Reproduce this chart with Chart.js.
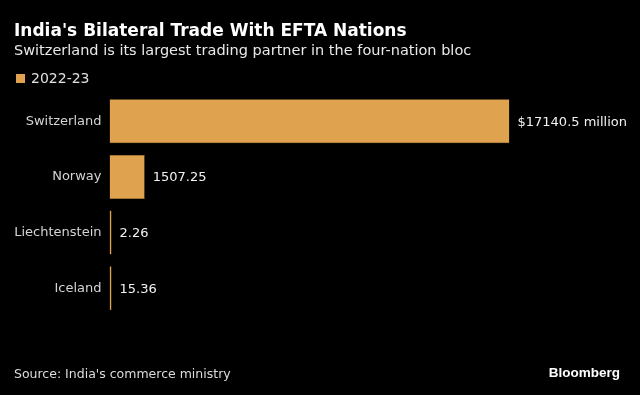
<!DOCTYPE html>
<html>
<head>
<meta charset="utf-8">
<script src="https://cdn.jsdelivr.net/npm/chart.js@4"></script>
<style>
  html, body { margin: 0; padding: 0; background: #000; }
  #wrap { position: relative; width: 640px; height: 395px; background: #000; overflow: hidden; font-family: "DejaVu Sans", sans-serif; }
  #wrap canvas { position: absolute; left: 0; top: 0; }
  .t { position: absolute; white-space: nowrap; line-height: 1; }
  #title { left: 14px; top: 21.5px; font-size: 17px; font-weight: bold; color: #ffffff; }
  #subtitle { left: 14px; top: 42.5px; font-size: 14.5px; color: #e8e8e8; }
  #legend { left: 16px; top: 71px; font-size: 14px; color: #e0e0e0; }
  #legend .sw { display: inline-block; width: 9px; height: 9px; background: #e0a24e; margin-right: 6px; vertical-align: 0px; }
  #source { left: 14px; top: 367.5px; font-size: 12.5px; color: #dcdcdc; }
  #brand { right: 20px; top: 366px; font-family: "Liberation Sans", sans-serif; font-size: 13.5px; font-weight: bold; color: #ffffff; }
</style>
</head>
<body>
<div id="wrap">
  <canvas id="c" width="640" height="395"></canvas>
  <div class="t" id="title">India's Bilateral Trade With EFTA Nations</div>
  <div class="t" id="subtitle">Switzerland is its largest trading partner in the four-nation bloc</div>
  <div class="t" id="legend"><span class="sw"></span><span id="legendText"></span></div>
  <div class="t" id="source">Source: India's commerce ministry</div>
  <div class="t" id="brand">Bloomberg</div>
</div>
<script>
const categories = ["Switzerland", "Norway", "Liechtenstein", "Iceland"];
const seriesName = "2022-23";
const tradeValues = [17140.5, 1507.25, 2.26, 15.36];
const valueLabels = ["$17140.5 million", "1507.25", "2.26", "15.36"];

document.getElementById("legendText").textContent = seriesName;

const valueLabelPlugin = {
  id: "valueLabels",
  afterDatasetsDraw(chart) {
    const ctx = chart.ctx;
    const meta = chart.getDatasetMeta(0);
    ctx.save();
    ctx.font = '13px "DejaVu Sans"';
    ctx.fillStyle = "#f2f2f2";
    ctx.textAlign = "left";
    ctx.textBaseline = "middle";
    meta.data.forEach((bar, i) => {
      ctx.fillText(valueLabels[i], bar.x + 8, bar.y + 1);
    });
    ctx.restore();
  }
};

new Chart(document.getElementById("c"), {
  type: "bar",
  data: {
    labels: categories,
    datasets: [{
      label: seriesName,
      data: tradeValues,
      backgroundColor: "#dfa24f",
      borderColor: "#c98d3e",
      borderWidth: 0.5,
      minBarLength: 2,
      barPercentage: 0.79,
      categoryPercentage: 1.0
    }]
  },
  options: {
    indexAxis: "y",
    responsive: false,
    animation: false,
    layout: { padding: { top: 93.5, bottom: 79, right: 130.5, left: 0 } },
    plugins: {
      legend: { display: false },
      tooltip: { enabled: false },
      title: { display: false }
    },
    scales: {
      x: {
        display: false,
        min: 0,
        max: Math.max(...tradeValues),
        grid: { display: false }
      },
      y: {
        grid: { display: false, drawTicks: false },
        border: { display: false },
        ticks: {
          color: "#d4d4d4",
          font: { family: "DejaVu Sans", size: 13 },
          padding: 8
        },
        afterFit(scale) { scale.width = 109.5; }
      }
    }
  },
  plugins: [valueLabelPlugin]
});
</script>
</body>
</html>
